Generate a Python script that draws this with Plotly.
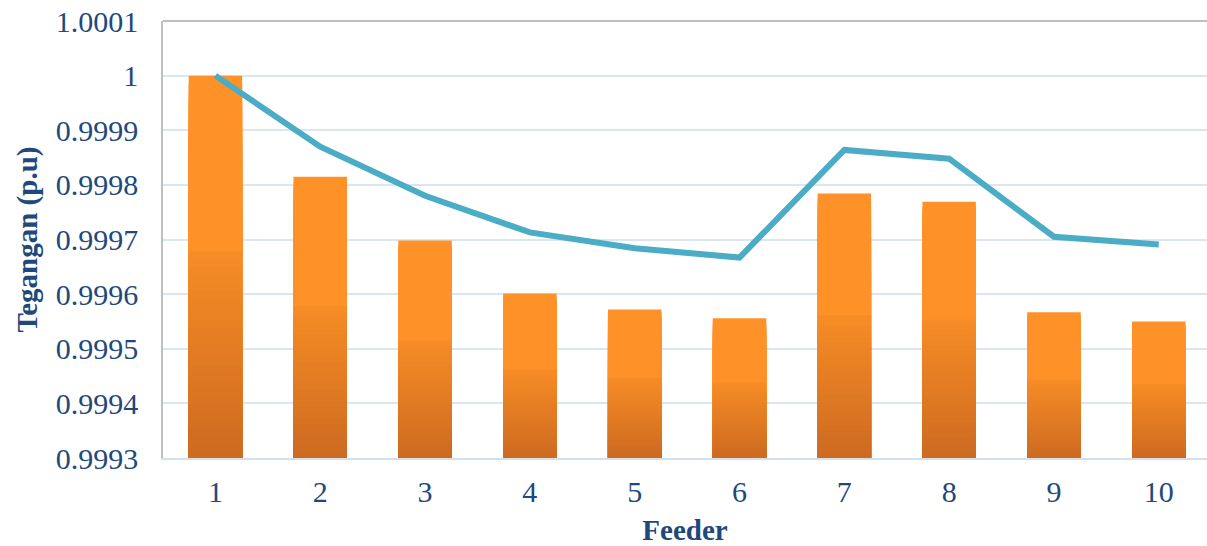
import plotly.graph_objects as go

feeders = [1, 2, 3, 4, 5, 6, 7, 8, 9, 10]
bar_values = [1.0000, 0.999815, 0.999698, 0.999601, 0.999572, 0.999556, 0.999784, 0.999769, 0.999567, 0.999550]
line_values = [1.0000, 0.999870, 0.999780, 0.999713, 0.999684, 0.999667, 0.999864, 0.999848, 0.999705, 0.999691]
y_ticks = [0.9993, 0.9994, 0.9995, 0.9996, 0.9997, 0.9998, 0.9999, 1.0, 1.0001]
y_tick_labels = ["0.9993", "0.9994", "0.9995", "0.9996", "0.9997", "0.9998", "0.9999", "1", "1.0001"]

BASE = 0.9993
N = 50
top_rgb = (254, 146, 41)
mid_rgb = (248, 141, 38)
bot_rgb = (204, 106, 32)

def col(t):
    if t >= 0.55:
        return top_rgb
    s = t / 0.55
    return tuple(int(round(bot_rgb[k] + (mid_rgb[k] - bot_rgb[k]) * s)) for k in range(3))

fig = go.Figure()
for i in range(N - 1, -1, -1):
    frac = (i + 1) / N
    c = col((i + 0.5) / N)
    heights = [(v - BASE) * frac for v in bar_values]
    fig.add_trace(go.Bar(
        x=feeders, y=heights, base=[BASE] * len(feeders),
        marker=dict(color="rgb(%d,%d,%d)" % c, line=dict(width=0)),
        width=0.51, showlegend=False, hoverinfo="skip",
    ))

fig.add_trace(go.Scatter(
    x=feeders, y=line_values, mode="lines",
    line=dict(color="#4BACC6", width=6), showlegend=False,
))

font_color = "#1F497D"
fam = "Times New Roman, serif"
fig.update_layout(
    width=1207, height=546,
    margin=dict(l=163, r=0, t=21, b=88),
    paper_bgcolor="white", plot_bgcolor="white",
    barmode="overlay",
    font=dict(family=fam, color=font_color, size=30),
    xaxis=dict(
        range=[0.5, 10.46], tickmode="array", tickvals=feeders,
        ticktext=[str(f) for f in feeders],
        showgrid=False, showline=True, linecolor="#D5DFEA", linewidth=2,
        ticks="", ticklabelstandoff=6,
        tickfont=dict(family=fam, size=30, color=font_color),
        title=dict(text="<b>Feeder</b>", font=dict(family=fam, size=29, color=font_color), standoff=16),
    ),
    yaxis=dict(
        range=[0.9993, 1.0001], tickmode="array", tickvals=y_ticks,
        ticktext=y_tick_labels,
        showgrid=True, gridcolor="#DCE6F2", gridwidth=2,
        zeroline=False, showline=True, linecolor="#BFBFBF", linewidth=1.5,
        ticks="", ticklabelstandoff=17,
        tickfont=dict(family=fam, size=30, color=font_color),
        title=dict(text="<b>Tegangan (p.u)</b>", font=dict(family=fam, size=29, color=font_color), standoff=10),
    ),
    shapes=[dict(type="line", xref="paper", yref="paper", x0=0, x1=1, y0=1, y1=1,
                 line=dict(color="#BFBFBF", width=2))],
)

fig.write_html("out.html", config={"displayModeBar": False},
               post_script="document.body.style.margin='0';")
